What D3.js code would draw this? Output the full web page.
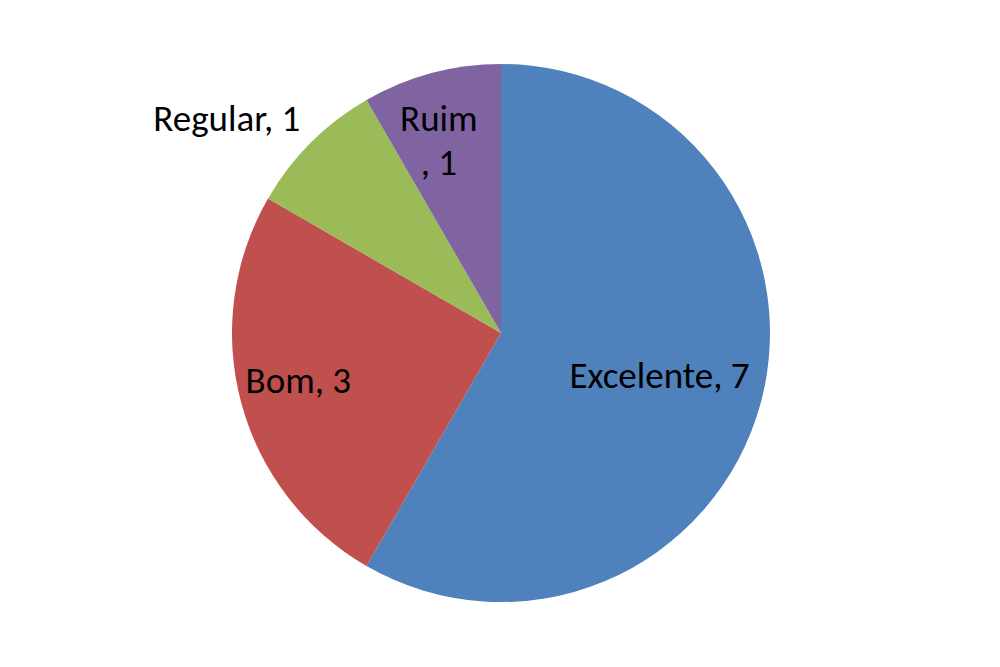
<!DOCTYPE html>
<html>
<head>
<meta charset="utf-8">
<script src="https://cdn.jsdelivr.net/npm/d3@7"></script>
<style>
  body { margin: 0; background: #fff; }
  text { font-family: Carlito, Lato, "Liberation Sans", sans-serif; }
</style>
</head>
<body>
<svg id="chart" width="1000" height="667"></svg>
<script>
// data
const categories = ["Excelente", "Bom", "Regular", "Ruim"];
const values = [7, 3, 1, 1];
const colors = ["#4F81BD", "#C0504D", "#9BBB59", "#8064A2"];

const svg = d3.select("#chart");
const cx = 501, cy = 333, radius = 269;

const pie = d3.pie().sort(null).value(d => d.value);
const arcs = pie(categories.map((c, i) => ({ name: c, value: values[i] })));

const arc = d3.arc().innerRadius(0).outerRadius(radius);

const g = svg.append("g").attr("transform", `translate(${cx},${cy})`);

g.selectAll("path")
  .data(arcs)
  .join("path")
  .attr("d", arc)
  .attr("fill", (d, i) => colors[i]);

// label placement: radius factor per slice, plus nudges like excel does
const labelR = [0.61, 0.78, 1.0, 0.72];
const nudge = [[0, 0], [0, -7], [-84, -25], [-12, -6]];
const fontSize = 37;

arcs.forEach((d, i) => {
  const a = (d.startAngle + d.endAngle) / 2;
  const r = radius * labelR[i];
  const x = Math.sin(a) * r + nudge[i][0];
  const y = -Math.cos(a) * r + nudge[i][1];
  const t = g.append("text")
    .attr("x", x)
    .attr("y", y)
    .attr("text-anchor", "middle")
    .attr("font-size", fontSize)
    .attr("fill", "#000");
  if (d.data.name === "Ruim") {
    // wraps onto two lines in the original
    t.append("tspan").attr("x", x).attr("dy", "-0.25em").text(d.data.name);
    t.append("tspan").attr("x", x).attr("dy", "1.2em").text(", " + d.data.value);
  } else {
    t.attr("dy", "0.35em").text(d.data.name + ", " + d.data.value);
  }
});
</script>
</body>
</html>
